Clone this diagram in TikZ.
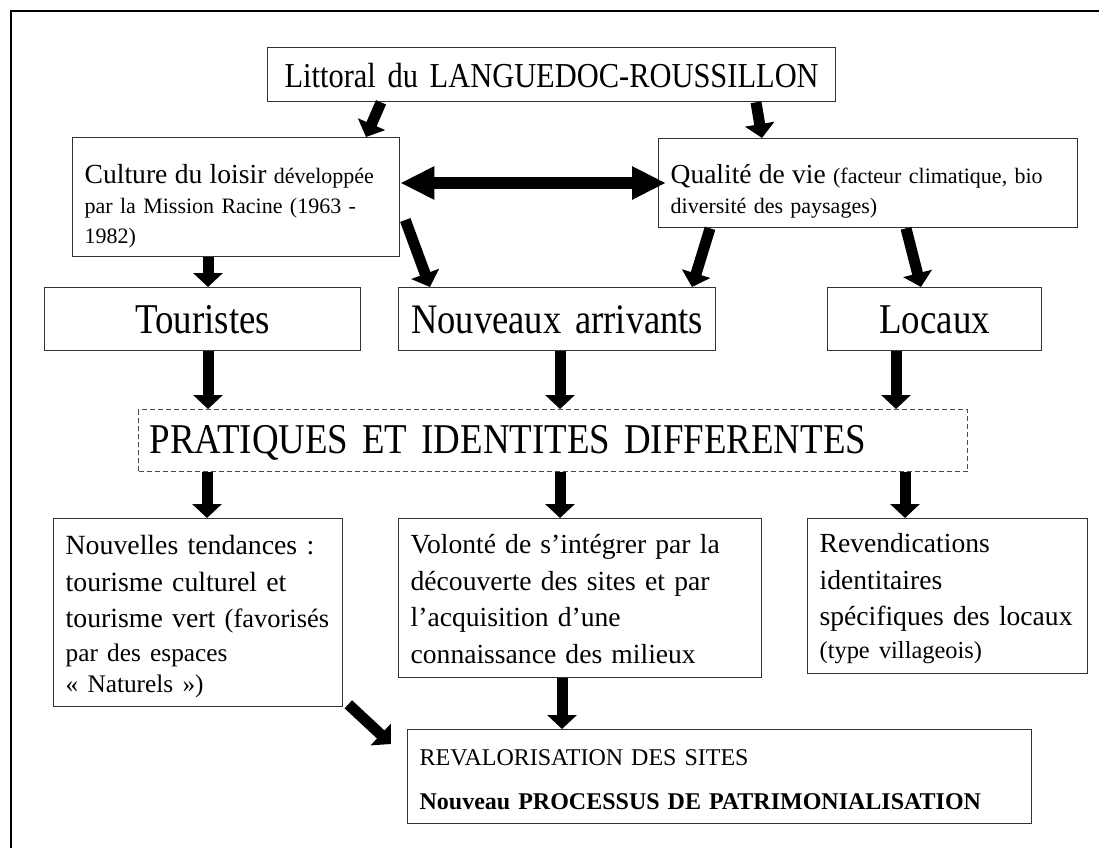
\documentclass[tikz,border=0pt]{standalone}
\usepackage{fontspec}
\setmainfont{Liberation Serif}
\newfontfamily\tallserif[FakeStretch=0.87]{Liberation Serif}
\usepackage{tikz}
\usetikzlibrary{arrows.meta}
\usetikzlibrary{positioning}
\newcommand{\setfs}[2]{\fontsize{#1}{#2}\selectfont}

\begin{document}
\begin{tikzpicture}[x=1pt,y=-1pt,box/.style={draw=black!80,line width=1.3pt,anchor=north west,inner xsep=12pt,inner ysep=0pt,align=left},fat/.style={line width=11pt,-{Triangle[width=29pt,length=14pt]}},wide/.style={line width=12pt,{Triangle[width=31pt,length=34pt]}-{Triangle[width=31pt,length=34pt]}}]
            \useasboundingbox (0,0) rectangle (1099,848);
            \draw[line width=1.6pt] (11,848) -- (11,11) -- (1099,11);
            \begin{scope}[every node/.style={box}]
              \node (lit) at (267,47) [text width=544pt,align=center,text height=40pt,text depth=14pt,font=\tallserif\setfs{35}{40}] {Littoral du LANGUEDOC-ROUSSILLON};
              \node (cult) at (72,137) [text width=303pt,text height=46pt,text depth=73pt,font=\setfs{22}{30}] {{\setfs{27.6}{30}Culture du loisir} développée\\ par la Mission Racine (1963 -\\ 1982)};
              \node (qual) at (658,138) [text width=395pt,text height=45pt,text depth=44pt,font=\setfs{22}{30}] {{\setfs{27.5}{30}Qualité de vie} (facteur climatique, bio\\ diversité des paysages)};
              \node (tour) at (44,287) [text width=292pt,align=center,text height=46pt,text depth=17pt,font=\tallserif\setfs{42.4}{46}] {Touristes};
              \node (arr) at (398,287) [text width=293pt,align=center,text height=46pt,text depth=17pt,font=\tallserif\setfs{42}{46}] {Nouveaux arrivants};
              \node (loc) at (827,287) [text width=190pt,align=center,text height=46pt,text depth=17pt,font=\tallserif\setfs{42.4}{46}] {Locaux};
              \node (prat) at (138,409) [draw=black!70,line width=1pt,dash pattern=on 5pt off 3pt,text width=807pt,inner xsep=11pt,text height=44pt,text depth=18pt,font=\tallserif\setfs{42.4}{46}] {PRATIQUES ET IDENTITES DIFFERENTES};
              \node (tend) at (53,518) [text width=265pt,text height=36pt,text depth=152pt,font=\setfs{27.8}{36.5}] {Nouvelles tendances :\\ tourisme culturel et\\ tourisme vert {\setfs{26.5}{36.5}(favorisés}\\[-2.5pt] {\setfs{25.3}{36.5}par des espaces}\\[-5.5pt] {\setfs{25.3}{36.5}« Naturels »)}};
              \node (vol) at (398,518) [text width=339pt,text height=35pt,text depth=124pt,font=\setfs{27.6}{36.5}] {Volonté de s’intégrer par la\\ découverte des sites et par\\ l’acquisition d’une\\ connaissance des milieux};
              \node (rev) at (807,518) [text width=256pt,text height=34pt,text depth=121pt,font=\setfs{27.6}{36.5}] {Revendications\\ identitaires\\ spécifiques des locaux\\[-3.5pt] {\setfs{24.4}{36.5}(type villageois)}};
              \node (reval) at (407,729) [text width=600pt,text height=36pt,text depth=58pt,font=\setfs{24}{44}] {REVALORISATION DES SITES\\ \textbf{Nouveau PROCESSUS DE PATRIMONIALISATION}};
            \end{scope}
            \draw[fat] ([xshift=114pt]lit.south west) -- ([xshift=294pt]cult.north west);
            \draw[fat] ([xshift=489pt]lit.south west) -- ([xshift=104pt]qual.north west);
            \draw[wide] ([yshift=-46pt]cult.north east) -- ([xshift=8pt,yshift=-45pt]qual.north west);
            \draw[fat] ([xshift=136pt]cult.south west) -- ([xshift=164pt]tour.north west);
            \draw[fat] ([xshift=5pt,yshift=-83pt]cult.north east) -- ([xshift=32pt]arr.north west);
            \draw[fat] ([xshift=52pt]qual.south west) -- ([xshift=294pt]arr.north west);
            \draw[fat] ([xshift=248pt]qual.south west) -- ([xshift=94pt]loc.north west);
            \draw[fat] ([xshift=164pt]tour.south west) -- ([xshift=70pt]prat.north west);
            \draw[fat] ([xshift=162pt]arr.south west) -- ([xshift=422pt]prat.north west);
            \draw[fat] ([xshift=69pt]loc.south west) -- ([xshift=758pt]prat.north west);
            \draw[fat] ([xshift=69pt]prat.south west) -- ([xshift=154pt]tend.north west);
            \draw[fat] ([xshift=422pt]prat.south west) -- ([xshift=162pt]vol.north west);
            \draw[fat] ([xshift=767pt]prat.south west) -- ([xshift=98pt]rev.north west);
            \draw[fat] ([xshift=164pt]vol.south west) -- ([xshift=155pt]reval.north west);
            \draw[fat] ([xshift=5pt,yshift=3pt]tend.south east) -- ([xshift=-16pt,yshift=-15pt]reval.north west);
          \end{tikzpicture}
\end{document}
